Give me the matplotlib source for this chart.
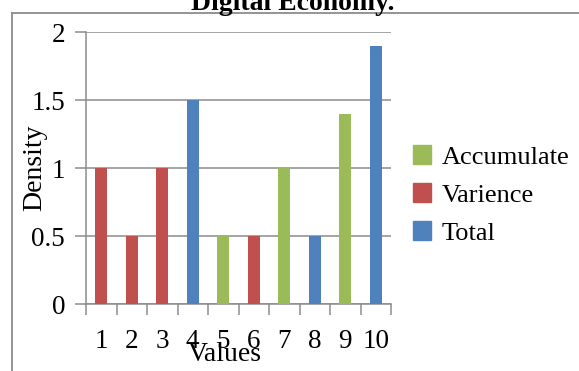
import matplotlib
matplotlib.use("Agg")
import matplotlib.pyplot as plt
from matplotlib.lines import Line2D
from matplotlib.patches import Patch

# Chart data
categories = [1, 2, 3, 4, 5, 6, 7, 8, 9, 10]
values = [1.0, 0.5, 1.0, 1.5, 0.5, 0.5, 1.0, 0.5, 1.4, 1.9]
series_of_bar = ["Varience", "Varience", "Varience", "Total", "Accumulate",
                 "Varience", "Accumulate", "Total", "Accumulate", "Total"]
series_names = ["Accumulate", "Varience", "Total"]
series_colors = {"Accumulate": "#9BBB59", "Varience": "#C0504D", "Total": "#4F81BD"}
y_ticks = [0, 0.5, 1, 1.5, 2]
y_tick_labels = ["0", "0.5", "1", "1.5", "2"]

W, H = 579, 371
DPI = 100
plt.rcParams["font.family"] = ["Liberation Serif", "DejaVu Serif"]
GRID = "#8C8C8C"

fig = plt.figure(figsize=(W / DPI, H / DPI), dpi=DPI)

def fx(px):
    return px / W

def fy(py):
    return 1 - py / H

# outer chart frame (top and left edges)
fig.add_artist(Line2D([fx(12), fx(12)], [fy(12.5), fy(H + 5)], color=GRID, lw=1.3))
fig.add_artist(Line2D([fx(12), fx(W + 5)], [fy(12.5), fy(12.5)], color=GRID, lw=1.3))

fig.text(fx(293), fy(10), "Digital Economy.", ha="center", va="baseline",
         fontsize=20, fontweight="bold", color="black")

ax = fig.add_axes([fx(86), fy(304), fx(391) - fx(86), fy(32) - fy(304)])

for c, v, s in zip(categories, values, series_of_bar):
    ax.bar(c, v, width=0.4, color=series_colors[s], zorder=3)

ax.set_xlim(0.5, 10.5)
ax.set_ylim(0, 2)
ax.set_yticks(y_ticks)
ax.set_yticklabels(y_tick_labels)
ax.yaxis.grid(True, color=GRID, lw=1.1, zorder=0)
ax.set_axisbelow(True)

ax.set_xticks(categories)
ax.set_xticklabels([str(c) for c in categories])
ax.set_xticks([c - 0.5 for c in categories] + [10.5], minor=True)
ax.tick_params(axis="x", which="major", length=0, pad=18, labelsize=19.5)
ax.tick_params(axis="x", which="minor", length=8, width=1.1, color=GRID, direction="out")
ax.tick_params(axis="y", length=8, width=1.1, color=GRID, direction="out", pad=7, labelsize=19.5)

for side in ("top", "right"):
    ax.spines[side].set_visible(False)
for side in ("left", "bottom"):
    ax.spines[side].set_color(GRID)
    ax.spines[side].set_linewidth(1.1)

fig.text(fx(35), fy(168), "Density", rotation=90, ha="center", va="center", fontsize=20)
fig.text(fx(225), fy(361), "Values", ha="center", va="baseline", fontsize=20)

handles = [Patch(color=series_colors[n], label=n) for n in series_names]
fig.legend(handles=handles, loc="center left", bbox_to_anchor=(fx(413), fy(195)),
           frameon=False, fontsize=19, handlelength=0.7, handleheight=0.7,
           handletextpad=0.4, labelspacing=0.55, borderpad=0, borderaxespad=0)

fig.savefig("out.png", dpi=DPI, facecolor="white")
